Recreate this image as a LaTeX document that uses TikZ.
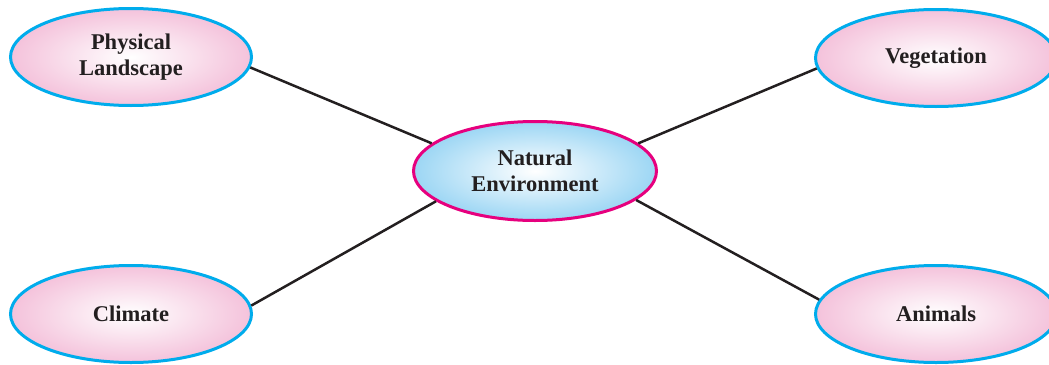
\documentclass[tikz,border=0pt]{standalone}
\usepackage{fontspec}
\setmainfont{Liberation Serif}
\usepackage{xcolor}
\definecolor{topicblue}{RGB}{0, 172, 236}
\definecolor{hubmagenta}{RGB}{230, 0, 126}
\definecolor{softpink}{RGB}{244, 194, 219}
\definecolor{skyblue}{RGB}{156, 214, 244}
\definecolor{darkline}{RGB}{35, 31, 32}
\usepackage{tikz}
\usetikzlibrary{shapes.geometric}

\begin{document}
\begin{tikzpicture}[x=1pt, y=-1pt,
    topic/.style={ellipse, draw=topicblue, line width=3pt, inner color=white, outer color=softpink,
        minimum width=241pt, minimum height=97pt, inner sep=0pt, align=center,
        font=\fontsize{22.5}{26}\selectfont\bfseries, text=darkline},
    hub/.style={topic, draw=hubmagenta, outer color=skyblue, minimum width=243pt, minimum height=99pt},
    link/.style={line width=2.5pt, darkline}]
    \useasboundingbox (0, 0) rectangle (1049, 364);

    \node[hub] (nature) at (535, 171) {Natural\\Environment};
    \node[topic] (land) at (131, 57) {Physical\\Landscape};
    \node[topic] (veg) at (936, 58) {Vegetation};
    \node[topic] (clim) at (131, 314) {Climate};
    \node[topic] (anim) at (936, 314) {Animals};

    \draw[link] (land.-5) -- (nature.165);
    \draw[link] (nature.15.6) -- (veg.-175);
    \draw[link] (clim.4.7) -- (nature.-163.7);
    \draw[link] (nature.-16.2) -- (anim.173);
\end{tikzpicture}
\end{document}
